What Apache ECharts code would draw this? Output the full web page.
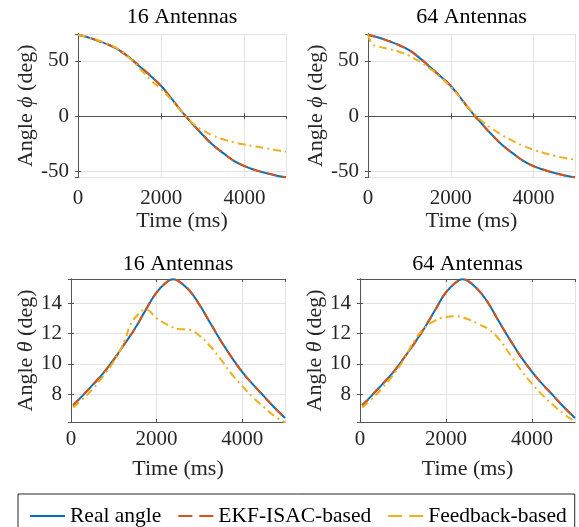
<!DOCTYPE html>
<html>
<head>
<meta charset="utf-8">
<script src="https://cdn.jsdelivr.net/npm/echarts@6/dist/echarts.min.js"></script>
<style>
  html, body { margin: 0; padding: 0; background: #fff; }
  #chart { width: 579px; height: 527px; }
</style>
</head>
<body>
<div id="chart"></div>
<script>
// time samples (ms)
const TIME_PHI = [0, 250, 500, 750, 1000, 1250, 1500, 1750, 2000, 2250, 2500,
  2750, 3000, 3250, 3500, 3750, 4000, 4250, 4500, 4750, 5000];
const TIME_FB64_PHI = [0, 100, 250, 500, 750, 1000, 1250, 1500, 1750, 2000, 2250,
  2500, 2750, 3000, 3250, 3500, 3750, 4000, 4250, 4500, 4750, 5000];
const TIME_REAL_THETA = [50, 250, 500, 750, 1000, 1250, 1500, 1750, 2000, 2250, 2375, 2500,
  2750, 3000, 3250, 3500, 3750, 4000, 4250, 4500, 4750, 5000];
const TIME_FB16_THETA = [50, 250, 500, 750, 1000, 1250, 1375, 1500, 1750, 2000, 2250,
  2500, 2750, 3000, 3250, 3500, 3750, 4000, 4250, 4500, 4750, 5000];
const TIME_FB64_THETA = [50, 250, 500, 750, 1000, 1250, 1500, 1750, 2000, 2250, 2500,
  2750, 3000, 3250, 3500, 3750, 4000, 4250, 4500, 4750, 5000];

// azimuth angle phi (deg)
const REAL_PHI = [73.8, 71.2, 68, 64.3, 59.5, 52.5, 44.5, 36, 27.3, 15.8, 3.8,
  -7, -17.2, -26.5, -33.8, -40.6, -45.4, -48.8, -51.5, -53.8, -55.6];
const EKF_PHI_16 = [73.8, 71.3, 67.9, 64.4, 59.3, 52.3, 44.7, 36.3, 27.0, 15.6, 4.0,
  -6.8, -17.0, -26.6, -33.7, -40.7, -45.3, -48.9, -51.4, -53.7, -55.5];
const FB_PHI_16 = [73.8, 71.4, 68.5, 64.8, 60, 52.3, 42.5, 32.5, 24.3, 14.5, 3.5,
  -6.3, -13, -17.8, -21.3, -23.8, -25.8, -27.5, -29, -30.8, -32.4];
const EKF_PHI_64 = [73.8, 71.1, 68.1, 64.2, 59.6, 52.6, 44.4, 35.8, 27.5, 15.9, 3.6,
  -7.1, -17.3, -26.4, -33.9, -40.5, -45.5, -48.7, -51.6, -53.9, -55.6];
const FB_PHI_64 = [74, 65.5, 63.2, 60.8, 58.3, 54.6, 49.3, 43, 35.3, 26.3, 15.8,
  4.5, -4.5, -11.5, -17.5, -22.5, -27, -30.5, -33.5, -35.9, -38, -39.5];

// elevation angle theta (deg)
const REAL_THETA = [7.28, 7.85, 8.6, 9.37, 10.3, 11.3, 12.36, 13.56, 14.7, 15.4, 15.57, 15.47,
  14.87, 13.9, 12.7, 11.53, 10.44, 9.48, 8.65, 7.9, 7.13, 6.45];
const EKF_THETA_16 = [7.25, 7.87, 8.58, 9.4, 10.27, 11.32, 12.33, 13.58, 14.68, 15.41, 15.56, 15.46,
  14.89, 13.88, 12.72, 11.51, 10.46, 9.46, 8.66, 7.88, 7.14, 6.44];
const FB_THETA_16 = [7.13, 7.63, 8.33, 9.2, 10.18, 11.5, 12.5, 13.05, 13.56, 13.0, 12.58,
  12.3, 12.25, 11.86, 11.16, 10.3, 9.35, 8.55, 7.8, 7.17, 6.58, 6.15];
const EKF_THETA_64 = [7.26, 7.84, 8.62, 9.36, 10.32, 11.28, 12.38, 13.54, 14.72, 15.39, 15.57, 15.48,
  14.86, 13.92, 12.68, 11.55, 10.42, 9.5, 8.63, 7.91, 7.12, 6.46];
const FB_THETA_64 = [7.13, 7.63, 8.35, 9.2, 10.2, 11.45, 12.36, 12.84, 13.08, 13.13, 12.95,
  12.63, 12.25, 11.56, 10.57, 9.57, 8.7, 7.93, 7.28, 6.69, 6.2];

const PANEL_TITLES = ["16 Antennas", "64 Antennas", "16 Antennas", "64 Antennas"];
const LEGEND_NAMES = ["Real angle", "EKF-ISAC-based", "Feedback-based"];
const X_TICK_STEP = 2000;

const SERIF = "'Liberation Serif', 'Times New Roman', serif";
const INK = "#262626";
const BLUE = "#0072BD";
const RED = "#D95319";
const YELLOW = "#EDB120";

const GRIDS = [
  { left: 78, top: 34, width: 208, height: 143.5 },
  { left: 368, top: 34, width: 207, height: 143.5 },
  { left: 71, top: 279, width: 214, height: 143 },
  { left: 360, top: 279, width: 215, height: 143 },
];
const PHI_RANGE = { min: -55.7, max: 74.4, splitNumber: 3 };
const THETA_RANGE = { min: 6.18, max: 15.58, splitNumber: 5 };

// legend line samples (solid / two dashes)
const ICON_SOLID = "path://M0,0h35v2h-35z";
const ICON_DASH = "path://M0,0h14v2h-14z M21,0h14v2h-14z";

const pairs = (ts, vs) => ts.map((t, i) => [t, vs[i]]);

const panels = [
  { real: pairs(TIME_PHI, REAL_PHI), ekf: pairs(TIME_PHI, EKF_PHI_16), fb: pairs(TIME_PHI, FB_PHI_16), phi: true },
  { real: pairs(TIME_PHI, REAL_PHI), ekf: pairs(TIME_PHI, EKF_PHI_64), fb: pairs(TIME_FB64_PHI, FB_PHI_64), phi: true },
  { real: pairs(TIME_REAL_THETA, REAL_THETA), ekf: pairs(TIME_REAL_THETA, EKF_THETA_16), fb: pairs(TIME_FB16_THETA, FB_THETA_16), phi: false },
  { real: pairs(TIME_REAL_THETA, REAL_THETA), ekf: pairs(TIME_REAL_THETA, EKF_THETA_64), fb: pairs(TIME_FB64_THETA, FB_THETA_64), phi: false },
];

const axisLine = { show: true, lineStyle: { color: "#555", width: 1 } };
const axisTick = { show: true, inside: true, length: 3, lineStyle: { color: "#555" } };
const splitLine = { show: true, lineStyle: { color: "#e3e3e3", width: 1 } };
const tickFont = { fontFamily: SERIF, fontSize: 21, color: INK, formatter: (v) => String(v) };

const xAxis = [];
const yAxis = [];
const series = [];
const titles = [];

panels.forEach((p, i) => {
  const g = GRIDS[i];
  const top = i < 2;
  const yRange = p.phi ? PHI_RANGE : THETA_RANGE;
  const greek = p.phi ? "ϕ" : "θ";

  xAxis.push({
    type: "value", gridIndex: i, min: 0, max: 5000, interval: X_TICK_STEP,
    name: "Time (ms)", nameLocation: "middle", nameGap: top ? 33 : 36,
    nameTextStyle: { fontFamily: SERIF, fontSize: 22, color: INK },
    axisLine, axisTick, splitLine,
    axisLabel: { ...tickFont, margin: top ? 10 : 7, showMaxLabel: false },
  });
  yAxis.push({
    type: "value", gridIndex: i, ...yRange,
    name: `{t|Angle }{g|${greek}}{t| (deg)}`, nameLocation: "middle", nameGap: top ? 40 : 33,
    nameTextStyle: {
      fontFamily: SERIF, fontSize: 22, color: INK,
      rich: {
        t: { fontFamily: SERIF, fontSize: 22, color: INK },
        g: { fontFamily: SERIF, fontSize: 22, color: INK, fontStyle: "italic" },
      },
    },
    axisLine, axisTick, splitLine,
    axisLabel: { ...tickFont, margin: 9, showMinLabel: false, showMaxLabel: false },
  });

  titles.push({
    text: PANEL_TITLES[i],
    left: g.left + g.width / 2, top: top ? 6 : 253, textAlign: "center", padding: 0,
    textStyle: { fontFamily: SERIF, fontSize: 22, fontWeight: "normal", color: "#000" },
  });

  const base = {
    type: "line", xAxisIndex: i, yAxisIndex: i, symbol: "none", showSymbol: false,
    smooth: 0.5, animation: false,
  };
  series.push(
    { ...base, name: LEGEND_NAMES[0], data: p.real, lineStyle: { color: BLUE, width: 2 }, itemStyle: { color: BLUE }, z: 2 },
    { ...base, name: LEGEND_NAMES[1], data: p.ekf, lineStyle: { color: RED, width: 2, type: [9, 6] }, itemStyle: { color: RED }, z: 3 },
    { ...base, name: LEGEND_NAMES[2], data: p.fb, lineStyle: { color: YELLOW, width: 2, type: [8, 4, 2, 4] }, itemStyle: { color: YELLOW }, z: 4 }
  );
});

// mirrored box edges with inward ticks (top / right)
panels.forEach((p, i) => {
  const yRange = p.phi ? PHI_RANGE : THETA_RANGE;
  xAxis.push({
    type: "value", gridIndex: i, position: "top", min: 0, max: 5000, interval: X_TICK_STEP,
    axisLine, axisTick, splitLine: { show: false }, axisLabel: { show: false },
  });
  yAxis.push({
    type: "value", gridIndex: i, position: "right", ...yRange,
    axisLine, axisTick, splitLine: { show: false }, axisLabel: { show: false },
  });
});

const chart = echarts.init(document.getElementById("chart"), null, { renderer: "canvas" });
chart.setOption({
  animation: false,
  backgroundColor: "#fff",
  title: titles,
  grid: GRIDS,
  xAxis,
  yAxis,
  legend: {
    left: 18, top: 494, width: 560, orient: "horizontal",
    padding: [11, 8, 11, 12], itemGap: 17, itemWidth: 35, itemHeight: 2,
    borderColor: INK, borderWidth: 1, borderRadius: 0,
    textStyle: { fontFamily: SERIF, fontSize: 21.5, color: "#000" },
    data: [
      { name: LEGEND_NAMES[0], icon: ICON_SOLID },
      { name: LEGEND_NAMES[1], icon: ICON_DASH },
      { name: LEGEND_NAMES[2], icon: ICON_DASH },
    ],
  },
  series,
});
</script>
</body>
</html>
